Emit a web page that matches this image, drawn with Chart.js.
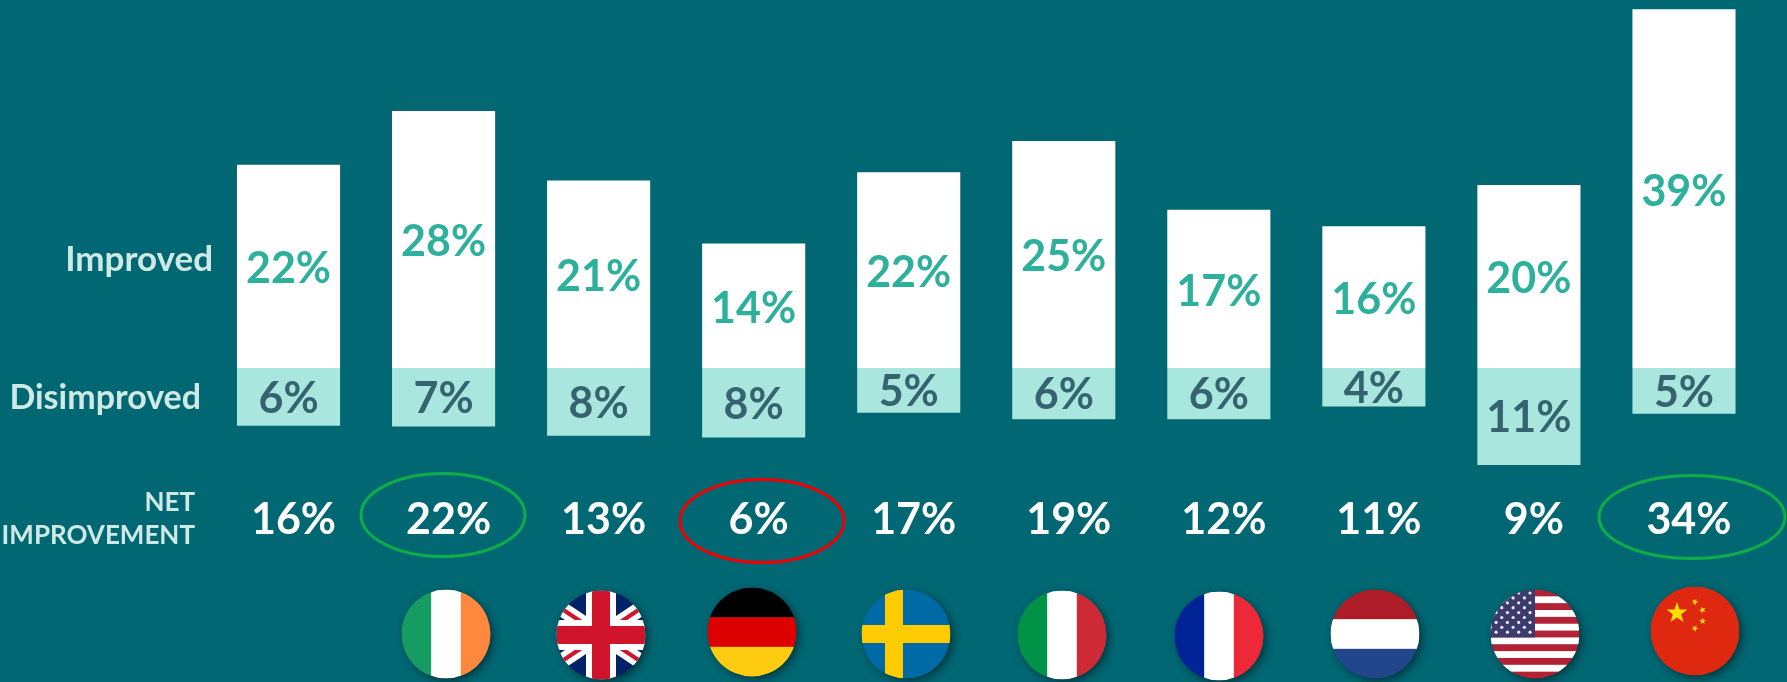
<!DOCTYPE html>
<html>
<head>
<meta charset="utf-8">
<style>
  html, body { margin: 0; padding: 0; background: #006773; overflow: hidden; }
  canvas { display: block; }
</style>
<script src="https://cdn.jsdelivr.net/npm/chart.js@4/dist/chart.umd.min.js"></script>
</head>
<body>
<canvas id="barChart" width="1787" height="682"></canvas>
<script>
const categories = ['Total', 'Ireland', 'UK', 'Germany', 'Sweden', 'Italy', 'France', 'Netherlands', 'USA', 'China'];
// bar lengths, printed labels are kept apart
const improved = [22.2, 28.1, 20.5, 13.6, 21.4, 24.8, 17.3, 15.5, 20.0, 39.2];
const disimproved = [-6.3, -6.4, -7.4, -7.6, -4.9, -5.6, -5.6, -4.2, -10.6, -5.0];
const improvedLabels = ['22%', '28%', '21%', '14%', '22%', '25%', '17%', '16%', '20%', '39%'];
const disimprovedLabels = ['6%', '7%', '8%', '8%', '5%', '6%', '6%', '4%', '11%', '5%'];
const netLabels = ['16%', '22%', '13%', '6%', '17%', '19%', '12%', '11%', '9%', '34%'];

const FONT = 'Lato, sans-serif';

function text(ctx, str, x, y, font, color, align) {
  ctx.font = font;
  ctx.fillStyle = color;
  ctx.textAlign = align || 'center';
  ctx.textBaseline = 'middle';
  ctx.fillText(str, x, y);
}

function bands(ctx, x, y, r, colors, vertical) {
  const s = 2 * r / colors.length;
  colors.forEach((c, i) => {
    ctx.fillStyle = c;
    if (vertical) ctx.fillRect(x - r + i * s, y - r, s + 0.5, 2 * r);
    else ctx.fillRect(x - r, y - r + i * s, 2 * r, s + 0.5);
  });
}

function star(ctx, x, y, r, rot) {
  ctx.beginPath();
  for (let i = 0; i < 10; i++) {
    const a = (rot || 0) - Math.PI / 2 + i * Math.PI / 5;
    const d = i % 2 ? r * 0.4 : r;
    ctx.lineTo(x + d * Math.cos(a), y + d * Math.sin(a));
  }
  ctx.closePath();
  ctx.fill();
}

const flags = {
  Ireland: (ctx, x, y, r) => bands(ctx, x, y, r, ['#169B62', '#FFFFFF', '#FF883E'], true),
  Germany: (ctx, x, y, r) => bands(ctx, x, y, r, ['#000000', '#DD0000', '#FFCC11'], false),
  Italy: (ctx, x, y, r) => bands(ctx, x, y, r, ['#009246', '#FFFFFF', '#CE2B37'], true),
  France: (ctx, x, y, r) => bands(ctx, x, y, r, ['#002395', '#FFFFFF', '#ED2939'], true),
  Netherlands: (ctx, x, y, r) => bands(ctx, x, y, r, ['#AE1C28', '#FFFFFF', '#21468B'], false),
  UK: (ctx, x, y, r) => {
    ctx.fillStyle = '#012169';
    ctx.fillRect(x - r, y - r, 2 * r, 2 * r);
    ctx.lineCap = 'butt';
    [[-1.2, -0.8, 1.2, 0.8], [-1.2, 0.8, 1.2, -0.8]].forEach(d => {
      ctx.beginPath();
      ctx.moveTo(x + d[0] * r, y + d[1] * r);
      ctx.lineTo(x + d[2] * r, y + d[3] * r);
      ctx.strokeStyle = '#FFFFFF';
      ctx.lineWidth = 15;
      ctx.stroke();
      ctx.strokeStyle = '#CF142B';
      ctx.lineWidth = 4;
      ctx.stroke();
    });
    ctx.fillStyle = '#FFFFFF';
    ctx.fillRect(x - 15, y - r, 30, 2 * r);
    ctx.fillRect(x - r, y - 15, 2 * r, 30);
    ctx.fillStyle = '#CF142B';
    ctx.fillRect(x - 9, y - r, 18, 2 * r);
    ctx.fillRect(x - r, y - 9, 2 * r, 18);
  },
  Sweden: (ctx, x, y, r) => {
    ctx.fillStyle = '#006AA7';
    ctx.fillRect(x - r, y - r, 2 * r, 2 * r);
    ctx.fillStyle = '#FECC00';
    ctx.fillRect(x - 21, y - r, 18, 2 * r);
    ctx.fillRect(x - r, y - 9, 2 * r, 18);
  },
  USA: (ctx, x, y, r) => {
    const s = 2 * r / 13;
    for (let i = 0; i < 13; i++) {
      ctx.fillStyle = i % 2 ? '#FFFFFF' : '#B22234';
      ctx.fillRect(x - r, y - r + i * s, 2 * r, s + 0.5);
    }
    ctx.fillStyle = '#3C3B6E';
    ctx.fillRect(x - r, y - r, r, 7 * s);
    ctx.fillStyle = '#E8E8F0';
    for (let row = 0; row < 9; row++) {
      for (let col = 0; col < 5; col++) {
        ctx.beginPath();
        ctx.arc(x - 5 - (row % 2) * 5.6 - col * 11.3, y - 41 + row * 4.9, 1.6, 0, Math.PI * 2);
        ctx.fill();
      }
    }
  },
  China: (ctx, x, y, r) => {
    ctx.fillStyle = '#DE2910';
    ctx.fillRect(x - r, y - r, 2 * r, 2 * r);
    ctx.fillStyle = '#FFDE00';
    star(ctx, x - 18, y - 18, 11);
    star(ctx, x, y - 29, 3.6, 0.4);
    star(ctx, x + 7.6, y - 21, 3.6, 0.9);
    star(ctx, x + 7.6, y - 10, 3.6, 0);
    star(ctx, x, y - 2.6, 3.6, 0.4);
  }
};

// centre of each flag, by country
const flagSpots = {
  Ireland: [446, 634], UK: [601, 635], Germany: [752, 632], Sweden: [906, 634], Italy: [1062, 635],
  France: [1219, 636], Netherlands: [1375, 634], USA: [1535, 634], China: [1695, 631]
};

// highlight rings round the net figures: index, centre, radii, colour
const rings = [
  [1, 443, 515, 82, 41.5, '#0DAD4A'],
  [3, 762, 521, 82, 41.5, '#F00000'],
  [9, 1692, 517, 93, 41.5, '#0DAD4A']
];

const annotations = {
  id: 'annotations',
  afterDatasetsDraw(chart) {
    const ctx = chart.ctx;
    const pct = 'bold 43px ' + FONT;
    const rowColor = '#CFEAE4';
    ctx.save();

    chart.getDatasetMeta(0).data.forEach((bar, i) => {
      text(ctx, improvedLabels[i], bar.x, (bar.y + bar.base) / 2 + 3, pct, '#2DB09C');
    });
    chart.getDatasetMeta(1).data.forEach((bar, i) => {
      text(ctx, disimprovedLabels[i], bar.x, (bar.y + bar.base) / 2 + 2, pct, '#35636F');
    });

    text(ctx, 'Improved', 213, 260, 'bold 35px ' + FONT, rowColor, 'right');
    text(ctx, 'Disimproved', 201, 398, 'bold 34px ' + FONT, rowColor, 'right');
    text(ctx, 'NET', 195, 503, 'bold 26px ' + FONT, rowColor, 'right');
    text(ctx, 'IMPROVEMENT', 195, 536, 'bold 26px ' + FONT, rowColor, 'right');

    netLabels.forEach((label, i) => {
      const x = chart.scales.x.getPixelForValue(i) + 5;
      text(ctx, label, x, 520, pct, '#FFFFFF');
    });

    rings.forEach(r => {
      ctx.beginPath();
      ctx.ellipse(r[1], r[2], r[3], r[4], 0, 0, Math.PI * 2);
      ctx.strokeStyle = r[5];
      ctx.lineWidth = 3;
      ctx.stroke();
    });

    categories.forEach(name => {
      if (!flags[name]) return;
      const [x, y] = flagSpots[name];
      const r = 44.5;
      ctx.save();
      ctx.shadowColor = 'rgba(0,0,0,0.5)';
      ctx.shadowBlur = 8;
      ctx.shadowOffsetX = 3;
      ctx.shadowOffsetY = 3;
      ctx.fillStyle = '#006773';
      ctx.beginPath();
      ctx.arc(x, y, r - 0.5, 0, Math.PI * 2);
      ctx.fill();
      ctx.restore();
      ctx.save();
      ctx.beginPath();
      ctx.arc(x, y, r, 0, Math.PI * 2);
      ctx.clip();
      flags[name](ctx, x, y, r);
      ctx.restore();
    });
    ctx.restore();
  }
};

new Chart(document.getElementById('barChart').getContext('2d'), {
  type: 'bar',
  data: {
    labels: categories,
    datasets: [
      { label: 'Improved', data: improved, backgroundColor: '#FFFFFF', categoryPercentage: 1, barPercentage: 0.665 },
      { label: 'Disimproved', data: disimproved, backgroundColor: '#A8E6DE', categoryPercentage: 1, barPercentage: 0.665 }
    ]
  },
  options: {
    responsive: false,
    animation: false,
    layout: { padding: { left: 211, right: 25.5, top: 0, bottom: 0 } },
    plugins: { legend: { display: false }, tooltip: { enabled: false } },
    scales: {
      x: { stacked: true, display: false },
      y: { stacked: true, display: false, min: -34.32, max: 40.22 }
    }
  },
  plugins: [annotations]
});
</script>
</body>
</html>
